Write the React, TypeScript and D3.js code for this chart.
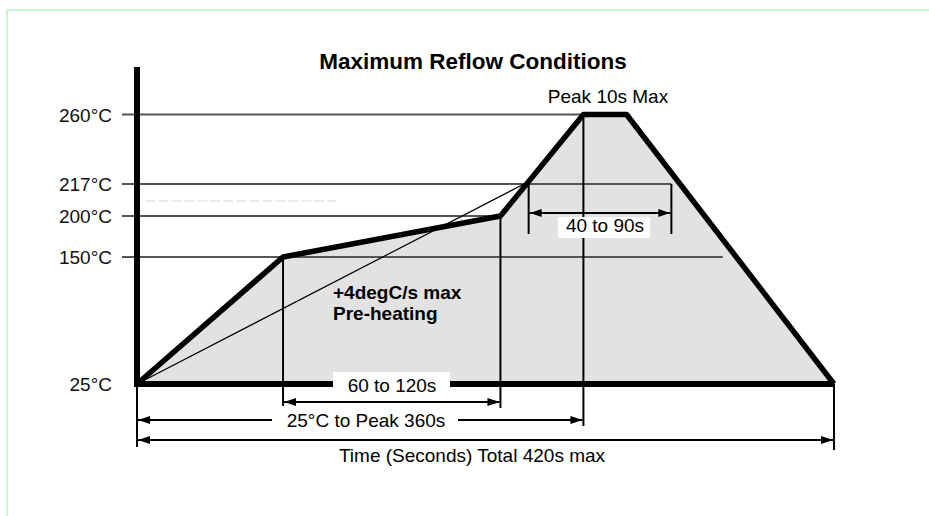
import React from "react";
import * as d3 from "d3";

// temperatures marked on the left side
const tempTicks = [260, 217, 200, 150, 25];
const tickLabels = ["260°C", "217°C", "200°C", "150°C", "25°C"];

// reflow profile, time (s) vs temperature (°C)
const profileTime = [0, 88, 219, 269, 295, 420];
const profileTemp = [25, 150, 200, 260, 260, 25];

// how far (s) each horizontal reference line runs
const refTemps = [260, 217, 200, 150];
const refEnd = [269, 322, 219, 353];

// time markers
const preheatStart = 88;
const preheatEnd = 219;
const liquidusStart = 236;
const liquidusEnd = 322;
const peakStart = 269;
const totalTime = 420;

const W = 929;
const H = 516;
const font = "'Liberation Sans', Arial, Helvetica, sans-serif";

export default function App() {
  const x = d3.scaleLinear().domain([0, totalTime]).range([137, 834]);
  // the sketch is not to scale, so the temperature axis is piecewise
  const y = d3
    .scaleLinear()
    .domain([25, 150, 200, 217, 260])
    .range([384, 257, 216, 184, 114.5]);

  const pts: [number, number][] = profileTime.map((t, i) => [x(t), y(profileTemp[i])]);
  const line = d3.line();
  const area = d3
    .area<[number, number]>()
    .x(d => d[0])
    .y0(y(25))
    .y1(d => d[1]);

  const x0 = x(0);
  const yBase = y(25);

  // slope line from start to where profile crosses 217
  const cross = pts[2][0] + ((pts[3][0] - pts[2][0]) * (217 - 200)) / (260 - 200);

  const arrowY1 = yBase + 18;
  const arrowY2 = yBase + 36;
  const arrowY3 = yBase + 56;

  const tickTxt = (t: number, i: number) => (
    <text
      key={"l" + t}
      x={112}
      y={y(t) + 7}
      textAnchor="end"
      fontSize={19}
      fontFamily={font}
      fill="#111"
    >
      {tickLabels[i]}
    </text>
  );

  return (
    <svg
      width={W}
      height={H}
      style={{ position: "absolute", left: 0, top: 0, background: "#fff" }}
    >
      <defs>
        <marker
          id="ah"
          viewBox="0 0 12 8"
          refX={12}
          refY={4}
          markerWidth={12}
          markerHeight={8}
          markerUnits="userSpaceOnUse"
          orient="auto-start-reverse"
        >
          <path d="M0,0L12,4L0,8Z" fill="#000" />
        </marker>
      </defs>

      <rect x={7} y={10} width={W} height={H} fill="none" stroke="#c9f7c9" strokeWidth={2} />

      {/* shaded profile */}
      <path d={area(pts) || ""} fill="#e2e2e2" />

      {/* faint scan artefact */}
      <line x1={x(5)} x2={x(120)} y1={y(208)} y2={y(208)} stroke="#e4e4e4" strokeWidth={1.5} strokeDasharray="10 3" />

      {/* reference lines with tick stubs */}
      {refTemps.map((t, i) => (
        <line key={t} x1={122} x2={x(refEnd[i])} y1={y(t)} y2={y(t)} stroke="#555" strokeWidth={2} />
      ))}

      {/* 4 degC/s slope */}
      <path d={line([[x0, yBase], [cross, y(217)]]) || ""} stroke="#000" strokeWidth={1.2} fill="none" />

      {/* verticals */}
      <line x1={x(preheatStart)} x2={x(preheatStart)} y1={y(150)} y2={arrowY1 + 4} stroke="#000" strokeWidth={2} />
      <line x1={x(preheatEnd)} x2={x(preheatEnd)} y1={y(200)} y2={arrowY1 + 6} stroke="#000" strokeWidth={2} />
      <line x1={x(peakStart)} x2={x(peakStart)} y1={y(260)} y2={arrowY2 + 6} stroke="#000" strokeWidth={2} />
      <line x1={x0} x2={x0} y1={yBase} y2={arrowY3 + 7} stroke="#000" strokeWidth={2} />
      <line x1={x(totalTime)} x2={x(totalTime)} y1={yBase} y2={arrowY3 + 10} stroke="#000" strokeWidth={2} />
      <line x1={x(liquidusStart)} x2={x(liquidusStart)} y1={y(217)} y2={y(217) + 50} stroke="#000" strokeWidth={2} />
      <line x1={x(liquidusEnd)} x2={x(liquidusEnd)} y1={y(217)} y2={y(217) + 50} stroke="#000" strokeWidth={2} />

      {/* profile and axes */}
      <path d={line(pts) || ""} stroke="#000" strokeWidth={5.5} fill="none" strokeLinejoin="round" />
      <line x1={x0} x2={x(totalTime)} y1={yBase} y2={yBase} stroke="#000" strokeWidth={6} />
      <line x1={x0} x2={x0} y1={67} y2={yBase + 3} stroke="#000" strokeWidth={6} />

      {tempTicks.map(tickTxt)}

      {/* 40 to 90s */}
      <line
        x1={x(liquidusStart) + 1}
        x2={x(liquidusEnd) - 1}
        y1={y(217) + 29}
        y2={y(217) + 29}
        stroke="#000"
        strokeWidth={2}
        markerStart="url(#ah)"
        markerEnd="url(#ah)"
      />
      <rect x={558} y={y(217) + 33} width={92} height={21} fill="#fff" />
      <text x={605} y={y(217) + 48} textAnchor="middle" fontSize={19} fontFamily={font}>
        40 to 90s
      </text>

      {/* 60 to 120s */}
      <rect x={333} y={yBase - 12} width={117} height={22} fill="#fff" />
      <text x={392} y={yBase + 8} textAnchor="middle" fontSize={19} fontFamily={font}>
        60 to 120s
      </text>
      <line
        x1={x(preheatStart) + 1}
        x2={x(preheatEnd) - 1}
        y1={arrowY1}
        y2={arrowY1}
        stroke="#000"
        strokeWidth={2}
        markerStart="url(#ah)"
        markerEnd="url(#ah)"
      />

      {/* 25C to peak */}
      <line
        x1={x0 + 1}
        x2={x(peakStart) - 1}
        y1={arrowY2}
        y2={arrowY2}
        stroke="#000"
        strokeWidth={2}
        markerStart="url(#ah)"
        markerEnd="url(#ah)"
      />
      <rect x={272} y={arrowY2 - 11} width={186} height={22} fill="#fff" />
      <text x={366} y={arrowY2 + 7} textAnchor="middle" fontSize={19} fontFamily={font}>
        25°C to Peak 360s
      </text>

      {/* total */}
      <line
        x1={x0 + 1}
        x2={x(totalTime) - 1}
        y1={arrowY3}
        y2={arrowY3}
        stroke="#000"
        strokeWidth={2}
        markerStart="url(#ah)"
        markerEnd="url(#ah)"
      />
      <text x={472} y={arrowY3 + 22} textAnchor="middle" fontSize={19} fontFamily={font}>
        Time (Seconds) Total 420s max
      </text>

      {/* preheat note */}
      <text x={333} y={299} fontSize={19} fontWeight="bold" fontFamily={font}>
        +4degC/s max
      </text>
      <text x={333} y={320} fontSize={19} fontWeight="bold" fontFamily={font}>
        Pre-heating
      </text>

      <text x={608} y={103} textAnchor="middle" fontSize={19} fontFamily={font}>
        Peak 10s Max
      </text>
      <text x={473} y={69} textAnchor="middle" fontSize={22.5} fontWeight="bold" fontFamily={font}>
        Maximum Reflow Conditions
      </text>
    </svg>
  );
}
